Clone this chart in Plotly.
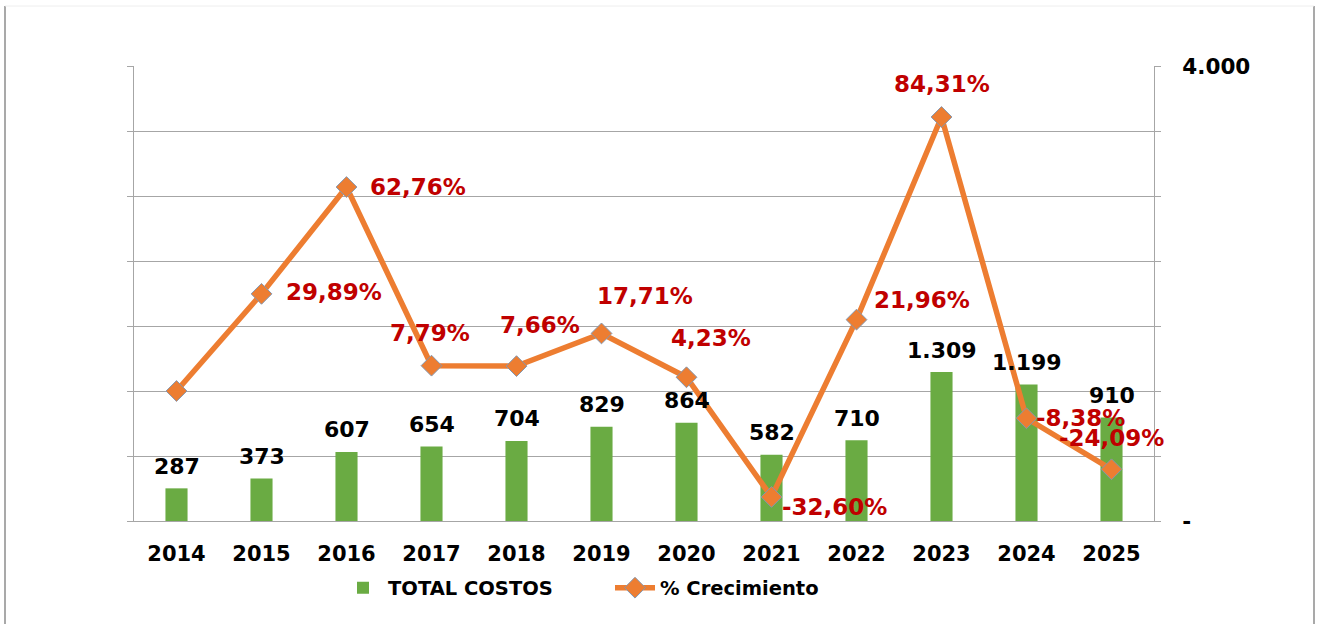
import plotly.graph_objects as go

years = ["2014", "2015", "2016", "2017", "2018", "2019", "2020", "2021", "2022", "2023", "2024", "2025"]
total_costos = [287, 373, 607, 654, 704, 829, 864, 582, 710, 1309, 1199, 910]
crecimiento = [0.0, 29.89, 62.76, 7.79, 7.66, 17.71, 4.23, -32.60, 21.96, 84.31, -8.38, -24.09]
show_growth_label = [False, True, True, True, True, True, True, True, True, True, True, True]

# label placement (pixel offsets from the point), style only
growth_label_shift = [(0, 0), (72, 2), (71, 0), (-2, 33), (23, 41), (43, 37), (24, 39),
                      (63, -10), (65, 20), (0, 33), (54, 0), (0, 31)]

W, H = 1321, 624
L, R, T, B = 134, 167, 66, 103
PH = H - T - B
PW = W - L - R

FONT = "DejaVu Sans"
GREEN = "#6AAB43"
ORANGE = "#ED7D31"
RED = "#C00000"
GRID = "#A6A6A6"

fig = go.Figure()

fig.add_trace(go.Bar(
    x=years, y=total_costos, name="TOTAL COSTOS",
    marker=dict(color=GREEN, line=dict(width=0)),
    width=0.26, xaxis="x", yaxis="y",
))

fig.add_trace(go.Scatter(
    x=years, y=crecimiento, name="% Crecimiento", mode="lines+markers",
    line=dict(color=ORANGE, width=5.5),
    marker=dict(symbol="diamond", size=16, color=ORANGE, line=dict(color="#8497B0", width=1)),
    xaxis="x", yaxis="y2",
))

annotations = []
for i, v in enumerate(total_costos):
    annotations.append(dict(
        x=i, y=v, xref="x", yref="y", text=f"{v:,}".replace(",", "."),
        showarrow=False, yshift=22, xanchor="center", yanchor="middle",
        font=dict(family=FONT, size=22, color="#000000", weight="bold"),
    ))
for i, (v, show, (dx, dy)) in enumerate(zip(crecimiento, show_growth_label, growth_label_shift)):
    if not show:
        continue
    annotations.append(dict(
        x=i, y=v, xref="x", yref="y2", text=f"{v:.2f}".replace(".", ",") + "%",
        showarrow=False, xshift=dx, yshift=dy, xanchor="center", yanchor="middle",
        font=dict(family=FONT, size=23, color=RED, weight="bold"),
    ))

ymin, ymax = -40, 100

y_ticks = [4000 * i / 7 for i in range(8)]
y_text = ["-"] + [""] * 6 + ["4.000"]

def px_x(p):
    return (p - L) / PW

def px_y(p):
    return (H - B - p) / PH

shapes = [
    dict(type="line", xref="paper", yref="paper", x0=px_x(5), x1=px_x(5), y0=px_y(6), y1=px_y(640),
         line=dict(color="#8C8C8C", width=1.5)),
    dict(type="line", xref="paper", yref="paper", x0=px_x(1314), x1=px_x(1314), y0=px_y(6), y1=px_y(640),
         line=dict(color="#8C8C8C", width=1.5)),
    dict(type="line", xref="paper", yref="paper", x0=px_x(5), x1=px_x(1314), y0=px_y(6), y1=px_y(6),
         line=dict(color="#EEEEEE", width=1)),
]

xrange = [-0.5, len(years) - 0.5]

fig.update_layout(
    width=W, height=H,
    margin=dict(l=L, r=R, t=T, b=B, pad=0, autoexpand=False),
    paper_bgcolor="white", plot_bgcolor="white",
    separators=",.",
    font=dict(family=FONT, size=21, color="#000000"),
    showlegend=True,
    legend=dict(orientation="h", x=px_x(338), xanchor="left", y=px_y(588), yanchor="middle",
                font=dict(family=FONT, size=19.5, color="#000000", weight="bold"),
                itemwidth=40, entrywidth=217, entrywidthmode="pixels",
                tracegroupgap=0, bgcolor="rgba(0,0,0,0)"),
    xaxis=dict(type="category", categoryorder="array", categoryarray=years, range=xrange,
               showgrid=False, showline=True, linecolor=GRID, linewidth=1,
               ticks="", tickfont=dict(family=FONT, size=21, color="#000000", weight="bold"),
               ticklabelstandoff=14, zeroline=False, anchor="y", automargin=False),
    yaxis=dict(range=[0, 4000], side="right", anchor="x", showgrid=True, gridcolor=GRID, gridwidth=1,
               showline=True, linecolor=GRID, linewidth=1, ticks="outside", ticklen=6, tickcolor=GRID,
               tickmode="array", tickvals=y_ticks, ticktext=y_text, ticklabelstandoff=17,
               tickfont=dict(family=FONT, size=21.5, color="#000000", weight="bold"),
               zeroline=False, automargin=False),
    yaxis2=dict(range=[ymin, ymax], dtick=20, overlaying="y", side="left", anchor="x", showgrid=False,
                showline=True, linecolor=GRID, linewidth=1, ticks="outside", ticklen=6, tickcolor=GRID,
                showticklabels=False, zeroline=False, automargin=False),
    annotations=annotations,
    shapes=shapes,
)

fig.write_html("out.html", config={"displayModeBar": False},
               post_script="document.body.style.margin='0';document.body.style.overflow='hidden';")
